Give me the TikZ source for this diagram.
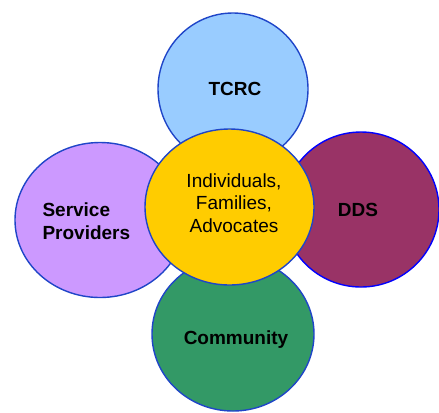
\documentclass[tikz,border=0pt]{standalone}
\usepackage{fontspec}
\setmainfont{Liberation Sans}
\usepackage{tikz}
\usetikzlibrary{shapes.geometric}
\definecolor{tcrc}{HTML}{99CCFF}
\definecolor{dds}{HTML}{993366}
\definecolor{provider}{HTML}{CC99FF}
\definecolor{community}{HTML}{339966}
\definecolor{family}{HTML}{FFCC00}
\definecolor{rim}{HTML}{1F45C8}
\definecolor{rimbright}{HTML}{0000FF}

\begin{document}
\begin{tikzpicture}[x=1bp,y=-1bp,
  petal/.style={ellipse,draw=rim,line width=1.4bp,inner sep=0pt},
  lbl/.style={font=\fontsize{19bp}{22.4bp}\selectfont\bfseries}]
  \useasboundingbox (0,0) rectangle (439,412);
  \node[petal,fill=tcrc,minimum width=150bp,minimum height=152bp] (tcrcE) at (233,89) {};
  \node[petal,fill=dds,draw=rimbright,minimum width=156bp,minimum height=155bp] (ddsE) at (361,209.5) {};
  \node[petal,fill=provider,minimum width=170bp,minimum height=155bp] (provE) at (100,220) {};
  \node[petal,fill=community,minimum width=162bp,minimum height=154bp] (commE) at (233,334) {};
  \node[petal,fill=family,minimum width=169bp,minimum height=156bp] (famE) at (229.5,207) {};
  \node[lbl] (tcrcT) at (235,89) {TCRC};
  \node[lbl] (ddsT) at (358,210) {DDS};
  \node[lbl,align=left,anchor=west] (provT) at (39,221) {Service\\Providers};
  \node[lbl] (commT) at (236,340) {Community};
  \node[lbl,font=\fontsize{19bp}{22.4bp}\selectfont,align=center] (famT) at (234,203) {Individuals,\\Families,\\Advocates};
\end{tikzpicture}
\end{document}
